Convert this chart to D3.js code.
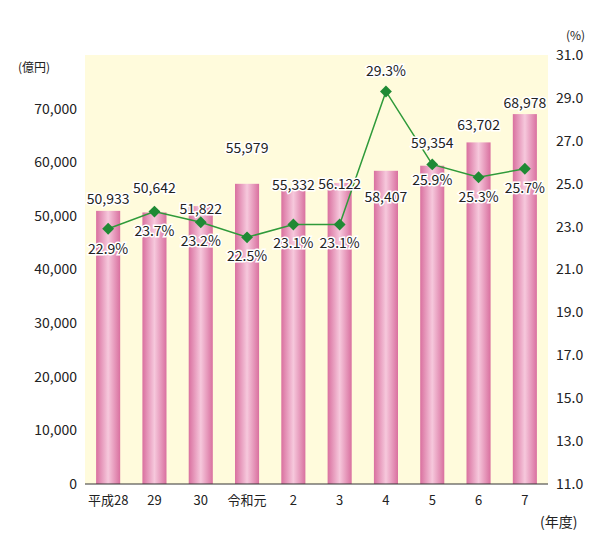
<!DOCTYPE html>
<html><head><meta charset="utf-8">
<script src="https://cdn.jsdelivr.net/npm/d3@7"></script>
<style>body{margin:0;background:#fff}text{font-family:"Noto Sans CJK JP","Noto Sans",sans-serif;fill:#222}</style>
</head><body><div id="chart"></div>
<script>
const categories = ["平成28","29","30","令和元","2","3","4","5","6","7"];
const amounts = [50933,50642,51822,55979,55332,56122,58407,59354,63702,68978];
const amountLabels = ["50,933","50,642","51,822","55,979","55,332","56.122","58,407","59,354","63,702","68,978"];
const rates = [22.9,23.7,23.2,22.5,23.1,23.1,29.3,25.9,25.3,25.7];
const leftTicks = [0,10000,20000,30000,40000,50000,60000,70000];
const rightTicks = [11,13,15,17,19,21,23,25,27,29,31];
// label offsets (px relative to bar top / point)
const amountDy = [-7,-19,8,-31,3,6,31,-18,-12,-6];
const rateDy = [25,24,24,24,24,24,-15,21,25,24];
const rateDx = [0,0,0,0,0,0,0,0,0,0];

const W = 614, H = 549, m = {l:85, r:66, t:55, b:65};
const svg = d3.select("#chart").append("svg").attr("width", W).attr("height", H);
const defs = svg.append("defs");
const g1 = defs.append("linearGradient").attr("id","bg").attr("x1","0").attr("x2","1");
g1.append("stop").attr("offset","0").attr("stop-color","#d9709f");
g1.append("stop").attr("offset","0.5").attr("stop-color","#f6c8dc");
g1.append("stop").attr("offset","1").attr("stop-color","#d9709f");

const x = d3.scaleBand().domain(categories).range([m.l, W-m.r]).paddingInner(0.48).paddingOuter(0.24);
const y = d3.scaleLinear().domain([0,80000]).range([H-m.b, m.t]);
const y2 = d3.scaleLinear().domain([11,31]).range([H-m.b, m.t]);

svg.append("rect").attr("x",m.l).attr("y",m.t).attr("width",W-m.l-m.r).attr("height",H-m.t-m.b).attr("fill","#fffbdc");

svg.append("g").selectAll("rect").data(amounts).join("rect")
  .attr("x",(d,i)=>x(categories[i])).attr("width",x.bandwidth())
  .attr("y",d=>y(d)).attr("height",d=>y(0)-y(d)).attr("fill","url(#bg)");

const axL = svg.append("g").attr("transform",`translate(${m.l},0)`)
  .call(d3.axisLeft(y).tickValues(leftTicks).tickFormat(d3.format(",")).tickSize(0).tickPadding(8));
const axR = svg.append("g").attr("transform",`translate(${W-m.r},0)`)
  .call(d3.axisRight(y2).tickValues(rightTicks).tickFormat(d3.format(".1f")).tickSize(0).tickPadding(8));
const axB = svg.append("g").attr("transform",`translate(0,${H-m.b})`)
  .call(d3.axisBottom(x).tickSize(0).tickPadding(12));
[axL,axR,axB].forEach(a=>{a.select(".domain").remove();a.selectAll("text").attr("font-size",14).attr("fill","#222");});
axB.selectAll("text").attr("font-size",13);
svg.append("line").attr("x1",m.l).attr("x2",W-m.r).attr("y1",H-m.b).attr("y2",H-m.b).attr("stroke","#333");

svg.append("text").attr("x",18).attr("y",72).attr("font-size",12).text("(億円)");
svg.append("text").attr("x",566).attr("y",40).attr("font-size",12).text("(%)");
svg.append("text").attr("x",540).attr("y",527).attr("font-size",14).text("(年度)");

const cx = i => x(categories[i]) + x.bandwidth()/2;
svg.append("path").datum(rates)
  .attr("d", d3.line().x((d,i)=>cx(i)).y(d=>y2(d)))
  .attr("fill","none").attr("stroke","#2f9a3a").attr("stroke-width",1.5);
svg.append("g").selectAll("path").data(rates).join("path")
  .attr("d", d3.symbol(d3.symbolDiamond2, 90))
  .attr("transform",(d,i)=>`translate(${cx(i)},${y2(d)})`).attr("fill","#1f8a35");

svg.append("g").selectAll("text").data(amountLabels).join("text")
  .attr("x",(d,i)=>cx(i)).attr("y",(d,i)=>y(amounts[i])+amountDy[i])
  .attr("text-anchor","middle").attr("font-size",14)
  .attr("stroke","#fff").attr("stroke-width",3).attr("paint-order","stroke").text(d=>d);
svg.append("g").selectAll("text").data(rates).join("text")
  .attr("x",(d,i)=>cx(i)+rateDx[i]).attr("y",(d,i)=>y2(d)+rateDy[i])
  .attr("text-anchor","middle").attr("font-size",14)
  .attr("stroke","#fff").attr("stroke-width",3).attr("paint-order","stroke").text(d=>d.toFixed(1)+"%");
</script></body></html>
